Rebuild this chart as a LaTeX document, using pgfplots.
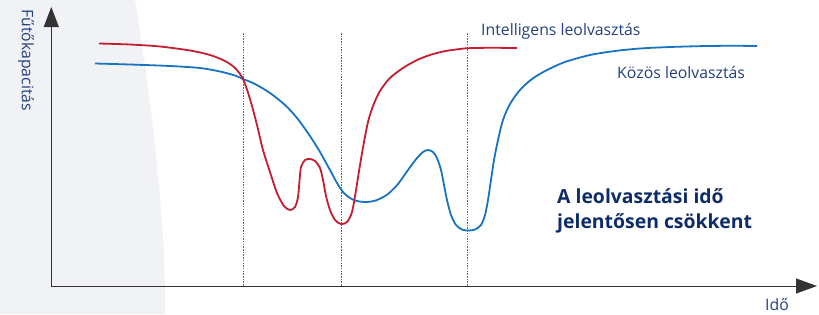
\documentclass[border=0pt]{standalone}
\usepackage{pgfplots}
\pgfplotsset{compat=1.18}
\usepackage{fontspec}
\setmainfont{Open Sans}
\usetikzlibrary{arrows.meta}
\definecolor{bgc}{HTML}{F1F2F6}
\definecolor{redc}{HTML}{C41E30}
\definecolor{bluec}{HTML}{1874C2}
\definecolor{navy}{HTML}{24407E}
\definecolor{navyb}{HTML}{0E2C68}
\definecolor{axc}{HTML}{333333}
\begin{document}
\begin{tikzpicture}
\begin{axis}[width=819pt,height=314pt,scale only axis,
  xmin=0,xmax=819,ymin=0,ymax=314,y dir=reverse,
  axis lines=none,clip=false]
\fill[bgc] (axis cs:0,0) -- (axis cs:135,0) .. controls (axis cs:150,90) and (axis cs:163,200) .. (axis cs:165,286) -- (axis cs:165,314) -- (axis cs:0,314) -- cycle;
% dashed verticals
\draw[gray!80!black,line width=0.6pt,dash pattern=on 1.5pt off 1.2pt] (axis cs:243,33) -- (axis cs:243,286);
\draw[gray!80!black,line width=0.6pt,dash pattern=on 1.5pt off 1.2pt] (axis cs:341.5,33) -- (axis cs:341.5,286);
\draw[gray!80!black,line width=0.6pt,dash pattern=on 1.5pt off 1.2pt] (axis cs:467.5,33) -- (axis cs:467.5,286);
% axes
\draw[axc,line width=1pt,-{Triangle[width=15pt,length=20pt]}] (axis cs:51.3,286) -- (axis cs:51.3,7);
\draw[axc,line width=1pt,-{Triangle[width=15pt,length=21pt]}] (axis cs:51.3,286) -- (axis cs:817,286);
% blue
\addplot[bluec,line width=1.8pt,smooth,tension=0.5] coordinates {
(95,63.5)(130,64.5)(170,66)(200,68)(220,71.5)(235,75.5)(243,79)(255,84)(270,93)(285,105)(297,118)(310,136)(320,152)(330,170)(337,183)(343,192)(350,198)(357,201)(367,202)(377,200)(388,194)(398,184)(408,170)(417,158)(423,152)(428,150)(433,152)(437,158)(441,170)(444,185)(447,200)(451,215)(456,225)(462,229.5)(468,230.5)(475,229.5)(481,225)(485,215)(488,200)(491,180)(494,160)(498,140)(503,120)(510,104)(520,90)(532,79)(547,70)(565,62)(590,55)(615,51)(640,48.5)(670,47)(707,46)(735,45.8)(757,46)
};
% red
\addplot[redc,line width=1.8pt,smooth,tension=0.5] coordinates {
(99,43.5)(130,44.5)(160,46.5)(190,50.5)(210,55)(225,61)(235,68)(243,79)(250,99)(257,125)(263,150)(270,172)(277,193)(284,206)(290,210)(295,207)(298,197)(299.5,181)(301,167)(305,160)(310,159)(315,161)(320,168)(323,180)(326,196)(330,210)(335,220)(341,224)(347,222)(352,212)(356,190)(360,165)(364,142)(368,122)(373,106)(380,91)(390,78)(403,68)(417,60)(430,55)(443,51.5)(456,49.5)(468,48.2)(490,47.8)(517,48)
};
% texts
\node[anchor=base west,inner sep=0,text=navy,font=\fontsize{15.8}{17}\selectfont] at (axis cs:481,35) {Intelligens leolvasztás};
\node[anchor=base west,inner sep=0,text=navy,font=\fontsize{15.8}{17}\selectfont] at (axis cs:617,78) {Közös leolvasztás};
\node[anchor=base west,inner sep=0,text=navyb,font=\fontsize{19.4}{21}\selectfont\bfseries] at (axis cs:557,203) {A leolvasztási idő};
\node[anchor=base west,inner sep=0,text=navyb,font=\fontsize{19.4}{21}\selectfont\bfseries] at (axis cs:557,228) {jelentősen csökkent};
\node[anchor=base west,inner sep=0,text=navy,font=\fontsize{15.8}{17}\selectfont] at (axis cs:765,310) {Idő};
\node[anchor=west,inner sep=0,rotate=-90,text=navy,font=\fontsize{15.8}{17}\selectfont] at (axis cs:26,9) {Fűtőkapacitás};
\end{axis}
\pgfresetboundingbox
\path[use as bounding box] (0,0) rectangle (819pt,314pt);
\end{tikzpicture}
\end{document}
